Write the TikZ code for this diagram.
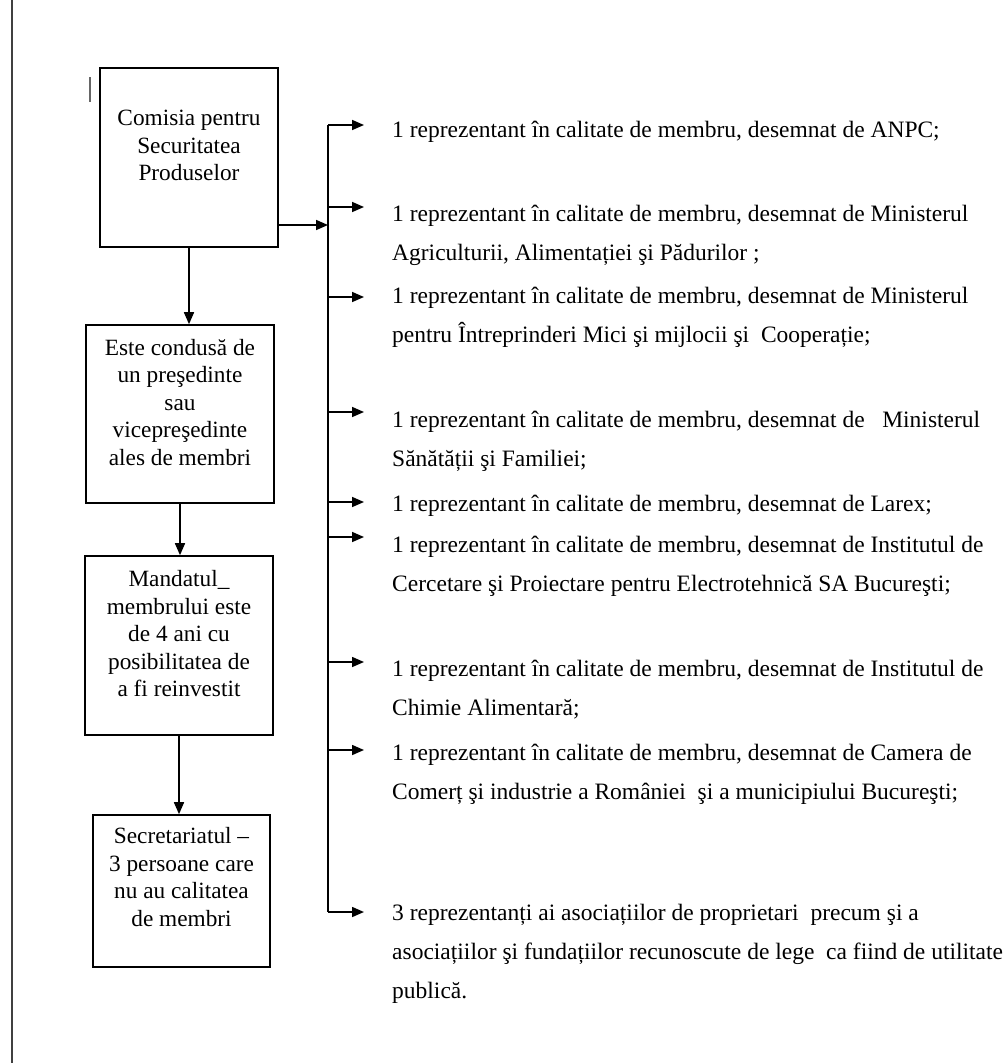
\documentclass[tikz,border=0pt]{standalone}
\usepackage{fontspec}
\setmainfont{Liberation Serif}
\usetikzlibrary{arrows.meta}
\tikzset{
  box/.style={draw, line width=1.6pt, align=center, inner sep=0pt, text depth=24pt,
    font=\fontsize{23.3}{27.5}\selectfont},
  rep/.style={anchor=base west, align=left, inner xsep=28pt, inner ysep=0pt,
    font=\fontsize{23.5}{39}\selectfont},
  line/.style={line width=1.6pt},
  arr/.style={line width=1.6pt, -{Triangle[length=12pt,width=10pt]}}
}
\begin{document}
\begin{tikzpicture}[x=1pt,y=-1pt]
        \useasboundingbox (0,0) rectangle (1004,1063);
        \draw[line width=2pt, black!75] (12,0) -- (12,1063);
        \draw[line width=1.5pt, black!60] (90,77) -- (90,102);

        \node[box, minimum width=178pt, minimum height=179pt] (comisia) at (189,157.5) {Comisia pentru\\Securitatea\\Produselor};
        \node[box, minimum width=188pt, minimum height=178pt] (conducere) at (180,414) {Este condusă de\\un preşedinte\\sau\\vicepreşedinte\\ales de membri};
        \node[box, minimum width=188pt, minimum height=179pt] (mandat) at (179,645.5) {Mandatul\_\\membrului este\\de 4 ani cu\\posibilitatea de\\a fi reinvestit};
        \node[box, minimum width=177pt, minimum height=152pt, text depth=28pt] (secretariat) at (181.5,891) {Secretariatul –\\3 persoane care\\nu au calitatea\\de membri};

        \node[rep] (rep1) at (364,137) {1 reprezentant în calitate de membru, desemnat de ANPC;};
        \node[rep] (rep2) at (364,260) {1 reprezentant în calitate de membru, desemnat de Ministerul\\Agriculturii, Alimentației şi Pădurilor ;};
        \node[rep] (rep3) at (364,342) {1 reprezentant în calitate de membru, desemnat de Ministerul\\pentru Întreprinderi Mici şi mijlocii şi \ Cooperație;};
        \node[rep] (rep4) at (364,466) {1 reprezentant în calitate de membru, desemnat de \ \ Ministerul\\Sănătății şi Familiei;};
        \node[rep] (rep5) at (364,511) {1 reprezentant în calitate de membru, desemnat de Larex;};
        \node[rep] (rep6) at (364,591) {1 reprezentant în calitate de membru, desemnat de Institutul de\\Cercetare şi Proiectare pentru Electrotehnică SA Bucureşti;};
        \node[rep] (rep7) at (364,715) {1 reprezentant în calitate de membru, desemnat de Institutul de\\Chimie Alimentară;};
        \node[rep] (rep8) at (364,799) {1 reprezentant în calitate de membru, desemnat de Camera de\\Comerț şi industrie a României \ şi a municipiului Bucureşti;};
        \node[rep] (rep9) at (364,998) {3 reprezentanți ai asociațiilor de proprietari \ precum şi a\\asociațiilor şi fundațiilor recunoscute de lege \ ca fiind de utilitate\\publică.};

        \coordinate (j) at (328,225);
        \coordinate (b1) at (328,125);
        \coordinate (b2) at (328,207);
        \coordinate (b3) at (328,297);
        \coordinate (b4) at (328,412);
        \coordinate (b5) at (328,502);
        \coordinate (b6) at (328,537);
        \coordinate (b7) at (328,662);
        \coordinate (b8) at (328,750);
        \coordinate (b9) at (328,912);

        \draw[arr] (comisia.south) -- (comisia.south |- conducere.north);
        \draw[arr] (conducere.south) -- (conducere.south |- mandat.north);
        \draw[arr] (mandat.south) -- (mandat.south |- secretariat.north);

        \draw[arr] (comisia.east |- j) -- (j);
        \draw[line] (b1) -- (b9);
        \draw[arr] (b1) -- (b1 -| rep1.west);
        \draw[arr] (b2) -- (b2 -| rep2.west);
        \draw[arr] (b3) -- (b3 -| rep3.west);
        \draw[arr] (b4) -- (b4 -| rep4.west);
        \draw[arr] (b5) -- (b5 -| rep5.west);
        \draw[arr] (b6) -- (b6 -| rep6.west);
        \draw[arr] (b7) -- (b7 -| rep7.west);
        \draw[arr] (b8) -- (b8 -| rep8.west);
        \draw[arr] (b9) -- (b9 -| rep9.west);
\end{tikzpicture}
\end{document}
